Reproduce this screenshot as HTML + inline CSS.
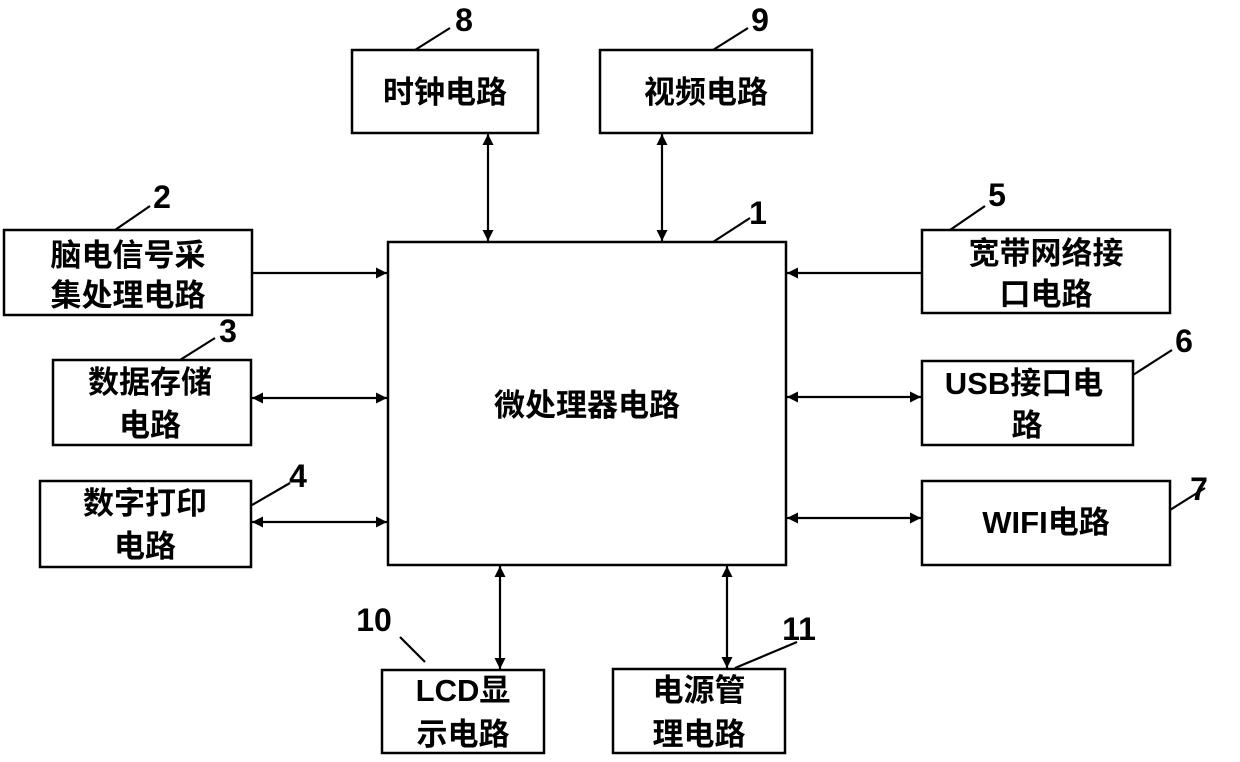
<!DOCTYPE html>
<html><head><meta charset="utf-8"><style>
html,body{margin:0;padding:0;background:#fff;}
svg{display:block;}
text{font-family:"Liberation Sans","Noto Sans CJK SC",sans-serif;font-weight:bold;fill:#000;}
</style></head><body>
<svg width="1240" height="762" viewBox="0 0 1240 762" xmlns="http://www.w3.org/2000/svg">
<defs>
<marker id="a" viewBox="0 0 10 10" refX="10" refY="5" markerWidth="13" markerHeight="11" markerUnits="userSpaceOnUse" orient="auto-start-reverse"><path d="M0,0 L10,5 L0,10 z" fill="#000"/></marker>
</defs>
<g fill="none" stroke="#000" stroke-width="2.5">
<rect x="388" y="242" width="398" height="323"/>
<rect x="352" y="50" width="186" height="83"/>
<rect x="600" y="50" width="212" height="83"/>
<rect x="4" y="230" width="248" height="85"/>
<rect x="53" y="360" width="198" height="85"/>
<rect x="40" y="481" width="211" height="86"/>
<rect x="922" y="230" width="248" height="83"/>
<rect x="922" y="361" width="211" height="84"/>
<rect x="922" y="481" width="248" height="84"/>
<rect x="382" y="670" width="162" height="83"/>
<rect x="613" y="669" width="172" height="84"/>
</g>
<g stroke="#000" stroke-width="2.2">
<line x1="488" y1="134" x2="488" y2="241" marker-start="url(#a)" marker-end="url(#a)"/>
<line x1="662" y1="134" x2="662" y2="241" marker-start="url(#a)" marker-end="url(#a)"/>
<line x1="500" y1="566" x2="500" y2="669" marker-start="url(#a)" marker-end="url(#a)"/>
<line x1="727" y1="566" x2="727" y2="668" marker-start="url(#a)" marker-end="url(#a)"/>
<line x1="253" y1="273" x2="387" y2="273" marker-end="url(#a)"/>
<line x1="252" y1="398" x2="387" y2="398" marker-start="url(#a)" marker-end="url(#a)"/>
<line x1="252" y1="522" x2="387" y2="522" marker-start="url(#a)" marker-end="url(#a)"/>
<line x1="921" y1="273" x2="787" y2="273" marker-end="url(#a)"/>
<line x1="787" y1="397" x2="921" y2="397" marker-start="url(#a)" marker-end="url(#a)"/>
<line x1="787" y1="518" x2="921" y2="518" marker-start="url(#a)" marker-end="url(#a)"/>
<line x1="415" y1="50" x2="450" y2="28"/>
<line x1="713" y1="50" x2="748" y2="28"/>
<line x1="713" y1="242" x2="750" y2="218"/>
<line x1="115" y1="230" x2="150" y2="206"/>
<line x1="180" y1="360" x2="215" y2="338"/>
<line x1="252" y1="505" x2="290" y2="483"/>
<line x1="950" y1="230" x2="985" y2="206"/>
<line x1="1133" y1="375" x2="1172" y2="350"/>
<line x1="1170" y1="510" x2="1205" y2="488"/>
<line x1="400" y1="637" x2="425" y2="662"/>
<line x1="797" y1="642" x2="735" y2="668"/>
</g>
<g font-size="31" text-anchor="middle">
<text x="445" y="103">时钟电路</text>
<text x="706" y="103">视频电路</text>
<text x="128" y="266">脑电信号采</text>
<text x="128" y="306">集处理电路</text>
<text x="150" y="393">数据存储</text>
<text x="150" y="436">电路</text>
<text x="145" y="514">数字打印</text>
<text x="145" y="557">电路</text>
<text x="1046" y="264">宽带网络接</text>
<text x="1046" y="305">口电路</text>
<text x="1024" y="394">USB接口电</text>
<text x="1027" y="436">路</text>
<text x="1046" y="533">WIFI电路</text>
<text x="587" y="416">微处理器电路</text>
<text x="463" y="701">LCD显</text>
<text x="463" y="745">示电路</text>
<text x="699" y="701">电源管</text>
<text x="699" y="745">理电路</text>
</g>
<g font-size="32" text-anchor="middle">
<text x="464" y="31">8</text>
<text x="760" y="31">9</text>
<text x="758" y="224">1</text>
<text x="162" y="208">2</text>
<text x="228" y="342">3</text>
<text x="298" y="487">4</text>
<text x="997" y="206">5</text>
<text x="1184" y="352">6</text>
<text x="1199" y="500">7</text>
<text x="374" y="631">10</text>
<text x="799" y="640">11</text>
</g>
</svg>
</body></html>
